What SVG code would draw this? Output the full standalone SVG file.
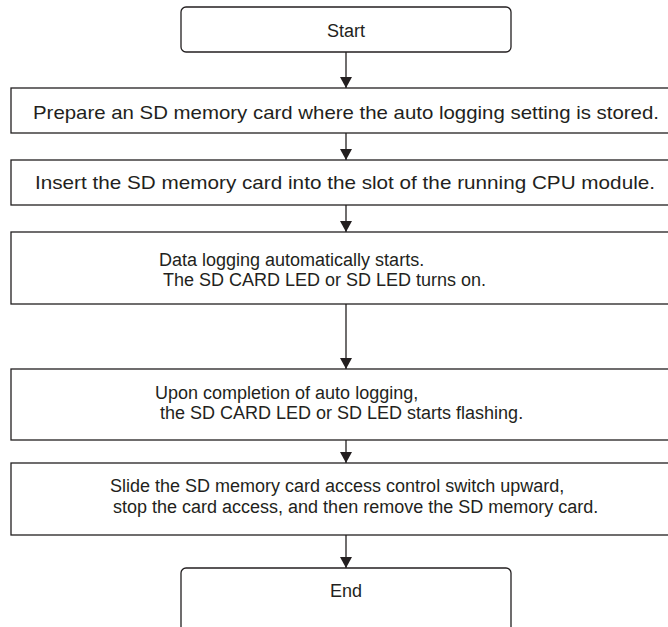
<svg xmlns="http://www.w3.org/2000/svg" width="668" height="627" viewBox="0 0 668 627">
<defs>
<style>
.box{fill:#fff;stroke:#231f20;stroke-width:1.3}
.t{font-family:"Liberation Sans",Arial,sans-serif;font-size:18px;fill:#231f20}
.w{font-size:19px}
.c{text-anchor:middle}
.ln{stroke:#231f20;stroke-width:1.3;fill:none}
</style>
<marker id="ah" markerWidth="12" markerHeight="12" refX="11" refY="6" orient="auto" markerUnits="userSpaceOnUse">
<path d="M0,0 L11,6 L0,12 Z" fill="#231f20"/>
</marker>
</defs>
<rect width="668" height="627" fill="#fff"/>
<g id="connectors">
<line class="ln" x1="346" y1="52" x2="346" y2="88" marker-end="url(#ah)"/>
<line class="ln" x1="346" y1="133" x2="346" y2="160" marker-end="url(#ah)"/>
<line class="ln" x1="346" y1="205" x2="346" y2="232" marker-end="url(#ah)"/>
<line class="ln" x1="346" y1="304" x2="346" y2="369" marker-end="url(#ah)"/>
<line class="ln" x1="346" y1="440" x2="346" y2="463" marker-end="url(#ah)"/>
<line class="ln" x1="346" y1="535" x2="346" y2="568" marker-end="url(#ah)"/>
</g>
<g id="start">
<rect class="box" x="181" y="7" width="330" height="45" rx="5"/>
<text class="t c" x="346" y="37">Start</text>
</g>
<g id="step1">
<rect class="box" x="11" y="88" width="670" height="45"/>
<text class="t w c" x="346" y="119" textLength="626" lengthAdjust="spacingAndGlyphs">Prepare an SD memory card where the auto logging setting is stored.</text>
</g>
<g id="step2">
<rect class="box" x="11" y="160" width="670" height="45"/>
<text class="t w c" x="345" y="189" textLength="620" lengthAdjust="spacingAndGlyphs">Insert the SD memory card into the slot of the running CPU module.</text>
</g>
<g id="step3">
<rect class="box" x="11" y="232" width="670" height="72"/>
<text class="t" x="159" y="266">Data logging automatically starts.</text>
<text class="t" x="163" y="286">The SD CARD LED or SD LED turns on.</text>
</g>
<g id="step4">
<rect class="box" x="11" y="369" width="670" height="71"/>
<text class="t" x="155" y="399">Upon completion of auto logging,</text>
<text class="t" x="160" y="419">the SD CARD LED or SD LED starts flashing.</text>
</g>
<g id="step5">
<rect class="box" x="11" y="463" width="670" height="72"/>
<text class="t" x="110" y="492">Slide the SD memory card access control switch upward,</text>
<text class="t" x="113" y="513">stop the card access, and then remove the SD memory card.</text>
</g>
<g id="end">
<rect class="box" x="181" y="568" width="330" height="70" rx="5"/>
<text class="t c" x="346" y="597">End</text>
</g>
</svg>
